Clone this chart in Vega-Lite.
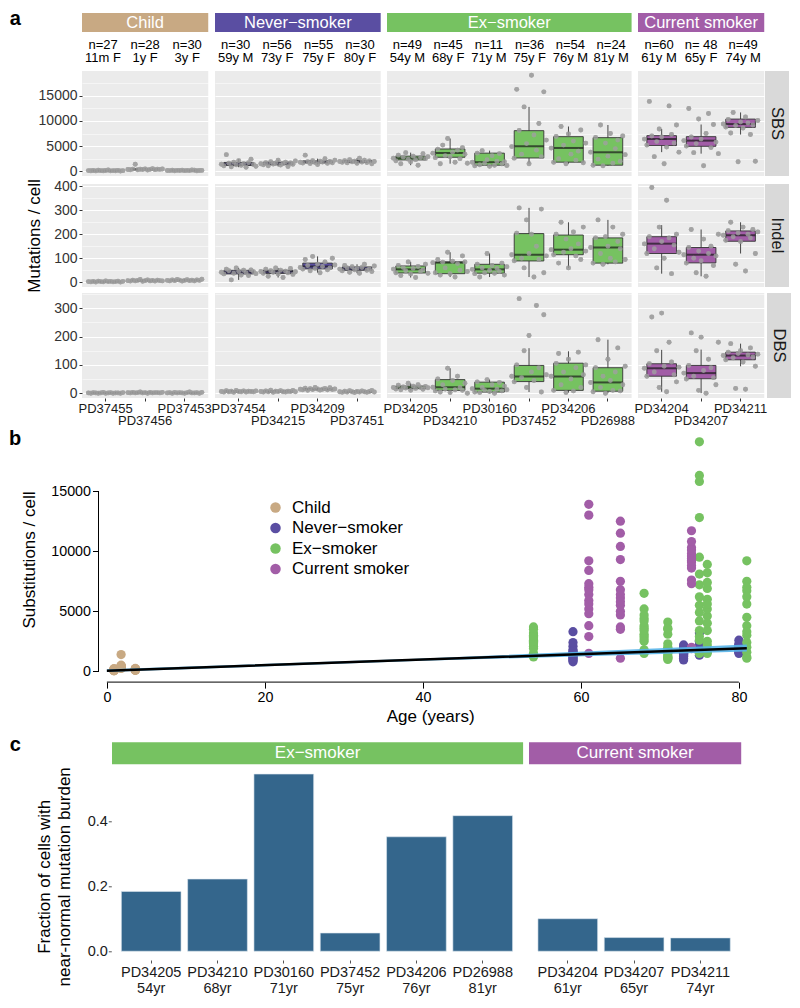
{
"$schema": "https://vega.github.io/schema/vega-lite/v6.json",
"padding": {"left": 8, "top": 8, "right": 5, "bottom": 5},
"background": "white",
"config": {"font": "Liberation Sans", "view": {"stroke": null}, "axis": {"titleFontWeight": "normal", "labelOverlap": false}},
"resolve": {"scale": {"color": "independent"}, "legend": {"color": "independent"}},
"datasets": {
"samples": [
{"s":"PD37455","g":"Child","n":"n=27","d":"11m F","age":0.9},
{"s":"PD37456","g":"Child","n":"n=28","d":"1y F","age":1.8},
{"s":"PD37453","g":"Child","n":"n=30","d":"3y F","age":3.6},
{"s":"PD37454","g":"Never−smoker","n":"n=30","d":"59y M","age":59},
{"s":"PD34215","g":"Never−smoker","n":"n=56","d":"73y F","age":73},
{"s":"PD34209","g":"Never−smoker","n":"n=55","d":"75y F","age":75},
{"s":"PD37451","g":"Never−smoker","n":"n=30","d":"80y F","age":80},
{"s":"PD34205","g":"Ex−smoker","n":"n=49","d":"54y M","age":54},
{"s":"PD34210","g":"Ex−smoker","n":"n=45","d":"68y F","age":68},
{"s":"PD30160","g":"Ex−smoker","n":"n=11","d":"71y M","age":71},
{"s":"PD37452","g":"Ex−smoker","n":"n=36","d":"75y F","age":75},
{"s":"PD34206","g":"Ex−smoker","n":"n=54","d":"76y M","age":76},
{"s":"PD26988","g":"Ex−smoker","n":"n=24","d":"81y M","age":81},
{"s":"PD34204","g":"Current smoker","n":"n=60","d":"61y M","age":61},
{"s":"PD34207","g":"Current smoker","n":"n= 48","d":"65y F","age":65},
{"s":"PD34211","g":"Current smoker","n":"n=49","d":"74y M","age":74}
],
"a": [
{"s":"PD37455","t":"SBS","lo":50,"q1":85,"med":115,"q3":150,"hi":230},
{"s":"PD37456","t":"SBS","lo":250,"q1":310,"med":370,"q3":430,"hi":520},
{"s":"PD37453","t":"SBS","lo":90,"q1":125,"med":150,"q3":180,"hi":250},
{"s":"PD37454","t":"SBS","lo":800,"q1":1150,"med":1400,"q3":1750,"hi":2400},
{"s":"PD34215","t":"SBS","lo":950,"q1":1300,"med":1550,"q3":1800,"hi":2200},
{"s":"PD34209","t":"SBS","lo":1350,"q1":1650,"med":1850,"q3":2050,"hi":2500},
{"s":"PD37451","t":"SBS","lo":1500,"q1":1800,"med":1950,"q3":2100,"hi":2600},
{"s":"PD34205","t":"SBS","lo":1200,"q1":2250,"med":2600,"q3":3000,"hi":3700},
{"s":"PD34210","t":"SBS","lo":1500,"q1":2780,"med":3630,"q3":4425,"hi":6500},
{"s":"PD30160","t":"SBS","lo":1000,"q1":1200,"med":1800,"q3":3600,"hi":4100},
{"s":"PD37452","t":"SBS","lo":1500,"q1":2640,"med":4960,"q3":8075,"hi":12800},
{"s":"PD34206","t":"SBS","lo":1500,"q1":1800,"med":4630,"q3":6880,"hi":8900},
{"s":"PD26988","t":"SBS","lo":1100,"q1":1200,"med":3770,"q3":6680,"hi":9200},
{"s":"PD34204","t":"SBS","lo":3800,"q1":5100,"med":6410,"q3":7080,"hi":8400},
{"s":"PD34207","t":"SBS","lo":3500,"q1":4960,"med":6090,"q3":6880,"hi":9300},
{"s":"PD34211","t":"SBS","lo":7300,"q1":8730,"med":9390,"q3":10380,"hi":11700},
{"s":"PD37455","t":"Indel","lo":1,"q1":2,"med":3,"q3":4,"hi":6},
{"s":"PD37456","t":"Indel","lo":4,"q1":6,"med":7,"q3":8.5,"hi":12},
{"s":"PD37453","t":"Indel","lo":5,"q1":7,"med":8,"q3":10,"hi":13},
{"s":"PD37454","t":"Indel","lo":10,"q1":35,"med":42,"q3":50,"hi":60},
{"s":"PD34215","t":"Indel","lo":20,"q1":37,"med":44,"q3":50,"hi":60},
{"s":"PD34209","t":"Indel","lo":40,"q1":56,"med":66,"q3":80,"hi":108},
{"s":"PD37451","t":"Indel","lo":38,"q1":50,"med":56,"q3":64,"hi":75},
{"s":"PD34205","t":"Indel","lo":20,"q1":39,"med":54,"q3":68,"hi":85},
{"s":"PD34210","t":"Indel","lo":22,"q1":36,"med":82,"q3":85,"hi":125},
{"s":"PD30160","t":"Indel","lo":22,"q1":38,"med":54,"q3":75,"hi":120},
{"s":"PD37452","t":"Indel","lo":22,"q1":89,"med":115,"q3":203,"hi":310},
{"s":"PD34206","t":"Indel","lo":60,"q1":115,"med":136,"q3":197,"hi":250},
{"s":"PD26988","t":"Indel","lo":75,"q1":80,"med":145,"q3":185,"hi":260},
{"s":"PD34204","t":"Indel","lo":36,"q1":120,"med":161,"q3":190,"hi":238},
{"s":"PD34207","t":"Indel","lo":25,"q1":81,"med":115,"q3":145,"hi":220},
{"s":"PD34211","t":"Indel","lo":120,"q1":171,"med":196,"q3":214,"hi":250},
{"s":"PD37455","t":"DBS","lo":0,"q1":0,"med":1,"q3":1.5,"hi":3},
{"s":"PD37456","t":"DBS","lo":0,"q1":1,"med":2,"q3":3,"hi":4},
{"s":"PD37453","t":"DBS","lo":0,"q1":1,"med":1,"q3":2,"hi":4},
{"s":"PD37454","t":"DBS","lo":3,"q1":5,"med":6,"q3":8,"hi":10},
{"s":"PD34215","t":"DBS","lo":3,"q1":5,"med":6,"q3":8,"hi":11},
{"s":"PD34209","t":"DBS","lo":10,"q1":12.5,"med":14,"q3":16.5,"hi":20},
{"s":"PD37451","t":"DBS","lo":2,"q1":4,"med":5,"q3":7,"hi":10},
{"s":"PD34205","t":"DBS","lo":10,"q1":16,"med":20,"q3":25,"hi":35},
{"s":"PD34210","t":"DBS","lo":0,"q1":10,"med":21,"q3":48,"hi":88},
{"s":"PD30160","t":"DBS","lo":0,"q1":4,"med":16,"q3":39,"hi":48},
{"s":"PD37452","t":"DBS","lo":4,"q1":41,"med":59,"q3":98,"hi":159},
{"s":"PD34206","t":"DBS","lo":2,"q1":10,"med":59,"q3":106,"hi":148},
{"s":"PD26988","t":"DBS","lo":0,"q1":7,"med":38,"q3":90,"hi":189},
{"s":"PD34204","t":"DBS","lo":5,"q1":60,"med":88,"q3":104,"hi":153},
{"s":"PD34207","t":"DBS","lo":0,"q1":51,"med":71,"q3":98,"hi":154},
{"s":"PD34211","t":"DBS","lo":95,"q1":118,"med":133,"q3":145,"hi":175},
{"s":"PD37455","t":"SBS","v":120},{"s":"PD37455","t":"SBS","v":85},{"s":"PD37455","t":"SBS","v":150},{"s":"PD37455","t":"SBS","v":60},{"s":"PD37455","t":"SBS","v":190},{"s":"PD37455","t":"SBS","v":110},{"s":"PD37455","t":"SBS","v":95},{"s":"PD37455","t":"SBS","v":140},{"s":"PD37455","t":"SBS","v":230},{"s":"PD37455","t":"SBS","v":75},{"s":"PD37455","t":"SBS","v":130},{"s":"PD37455","t":"SBS","v":105},{"s":"PD37455","t":"SBS","v":170},{"s":"PD37455","t":"SBS","v":50},{"s":"PD37455","t":"SBS","v":115},
{"s":"PD37456","t":"SBS","v":350},{"s":"PD37456","t":"SBS","v":300},{"s":"PD37456","t":"SBS","v":420},{"s":"PD37456","t":"SBS","v":1400},{"s":"PD37456","t":"SBS","v":280},{"s":"PD37456","t":"SBS","v":390},{"s":"PD37456","t":"SBS","v":330},{"s":"PD37456","t":"SBS","v":460},{"s":"PD37456","t":"SBS","v":250},{"s":"PD37456","t":"SBS","v":370},{"s":"PD37456","t":"SBS","v":520},{"s":"PD37456","t":"SBS","v":310},{"s":"PD37456","t":"SBS","v":410},{"s":"PD37456","t":"SBS","v":360},{"s":"PD37456","t":"SBS","v":440},
{"s":"PD37453","t":"SBS","v":150},{"s":"PD37453","t":"SBS","v":120},{"s":"PD37453","t":"SBS","v":190},{"s":"PD37453","t":"SBS","v":90},{"s":"PD37453","t":"SBS","v":170},{"s":"PD37453","t":"SBS","v":140},{"s":"PD37453","t":"SBS","v":210},{"s":"PD37453","t":"SBS","v":110},{"s":"PD37453","t":"SBS","v":160},{"s":"PD37453","t":"SBS","v":130},{"s":"PD37453","t":"SBS","v":250},{"s":"PD37453","t":"SBS","v":180},{"s":"PD37453","t":"SBS","v":100},{"s":"PD37453","t":"SBS","v":145},{"s":"PD37453","t":"SBS","v":165},
{"s":"PD37454","t":"SBS","v":1400},{"s":"PD37454","t":"SBS","v":1100},{"s":"PD37454","t":"SBS","v":3300},{"s":"PD37454","t":"SBS","v":1600},{"s":"PD37454","t":"SBS","v":900},{"s":"PD37454","t":"SBS","v":1800},{"s":"PD37454","t":"SBS","v":1300},{"s":"PD37454","t":"SBS","v":2100},{"s":"PD37454","t":"SBS","v":1200},{"s":"PD37454","t":"SBS","v":1500},{"s":"PD37454","t":"SBS","v":800},{"s":"PD37454","t":"SBS","v":1700},{"s":"PD37454","t":"SBS","v":2400},{"s":"PD37454","t":"SBS","v":1350},{"s":"PD37454","t":"SBS","v":1000},
{"s":"PD34215","t":"SBS","v":1500},{"s":"PD34215","t":"SBS","v":1300},{"s":"PD34215","t":"SBS","v":1700},{"s":"PD34215","t":"SBS","v":1100},{"s":"PD34215","t":"SBS","v":1900},{"s":"PD34215","t":"SBS","v":1450},{"s":"PD34215","t":"SBS","v":1600},{"s":"PD34215","t":"SBS","v":2200},{"s":"PD34215","t":"SBS","v":1250},{"s":"PD34215","t":"SBS","v":1550},{"s":"PD34215","t":"SBS","v":1800},{"s":"PD34215","t":"SBS","v":950},{"s":"PD34215","t":"SBS","v":1650},{"s":"PD34215","t":"SBS","v":1400},{"s":"PD34215","t":"SBS","v":2050},
{"s":"PD34209","t":"SBS","v":1800},{"s":"PD34209","t":"SBS","v":1650},{"s":"PD34209","t":"SBS","v":3200},{"s":"PD34209","t":"SBS","v":1900},{"s":"PD34209","t":"SBS","v":1550},{"s":"PD34209","t":"SBS","v":2100},{"s":"PD34209","t":"SBS","v":1750},{"s":"PD34209","t":"SBS","v":1350},{"s":"PD34209","t":"SBS","v":2000},{"s":"PD34209","t":"SBS","v":1850},{"s":"PD34209","t":"SBS","v":2500},{"s":"PD34209","t":"SBS","v":1600},{"s":"PD34209","t":"SBS","v":1950},{"s":"PD34209","t":"SBS","v":1700},{"s":"PD34209","t":"SBS","v":2200},
{"s":"PD37451","t":"SBS","v":1950},{"s":"PD37451","t":"SBS","v":1800},{"s":"PD37451","t":"SBS","v":2100},{"s":"PD37451","t":"SBS","v":1700},{"s":"PD37451","t":"SBS","v":2300},{"s":"PD37451","t":"SBS","v":1900},{"s":"PD37451","t":"SBS","v":2000},{"s":"PD37451","t":"SBS","v":1600},{"s":"PD37451","t":"SBS","v":2600},{"s":"PD37451","t":"SBS","v":1850},{"s":"PD37451","t":"SBS","v":2200},{"s":"PD37451","t":"SBS","v":1750},{"s":"PD37451","t":"SBS","v":2050},{"s":"PD37451","t":"SBS","v":1500},{"s":"PD37451","t":"SBS","v":1950},
{"s":"PD34205","t":"SBS","v":2600},{"s":"PD34205","t":"SBS","v":2100},{"s":"PD34205","t":"SBS","v":3200},{"s":"PD34205","t":"SBS","v":1500},{"s":"PD34205","t":"SBS","v":2800},{"s":"PD34205","t":"SBS","v":3700},{"s":"PD34205","t":"SBS","v":2400},{"s":"PD34205","t":"SBS","v":1900},{"s":"PD34205","t":"SBS","v":3000},{"s":"PD34205","t":"SBS","v":2300},{"s":"PD34205","t":"SBS","v":1200},{"s":"PD34205","t":"SBS","v":2700},{"s":"PD34205","t":"SBS","v":3500},{"s":"PD34205","t":"SBS","v":2500},{"s":"PD34205","t":"SBS","v":2900},
{"s":"PD34210","t":"SBS","v":3600},{"s":"PD34210","t":"SBS","v":2700},{"s":"PD34210","t":"SBS","v":4400},{"s":"PD34210","t":"SBS","v":1500},{"s":"PD34210","t":"SBS","v":5200},{"s":"PD34210","t":"SBS","v":3100},{"s":"PD34210","t":"SBS","v":6500},{"s":"PD34210","t":"SBS","v":2900},{"s":"PD34210","t":"SBS","v":3800},{"s":"PD34210","t":"SBS","v":1800},{"s":"PD34210","t":"SBS","v":4200},{"s":"PD34210","t":"SBS","v":2500},{"s":"PD34210","t":"SBS","v":4700},{"s":"PD34210","t":"SBS","v":3400},{"s":"PD34210","t":"SBS","v":1600},
{"s":"PD30160","t":"SBS","v":1800},{"s":"PD30160","t":"SBS","v":1100},{"s":"PD30160","t":"SBS","v":3600},{"s":"PD30160","t":"SBS","v":1300},{"s":"PD30160","t":"SBS","v":4100},{"s":"PD30160","t":"SBS","v":1600},{"s":"PD30160","t":"SBS","v":2300},{"s":"PD30160","t":"SBS","v":1000},{"s":"PD30160","t":"SBS","v":3100},{"s":"PD30160","t":"SBS","v":1200},{"s":"PD30160","t":"SBS","v":2000},{"s":"PD30160","t":"SBS","v":3500},{"s":"PD30160","t":"SBS","v":1500},{"s":"PD30160","t":"SBS","v":1900},{"s":"PD30160","t":"SBS","v":1150},
{"s":"PD37452","t":"SBS","v":4900},{"s":"PD37452","t":"SBS","v":2600},{"s":"PD37452","t":"SBS","v":16300},{"s":"PD37452","t":"SBS","v":8100},{"s":"PD37452","t":"SBS","v":3400},{"s":"PD37452","t":"SBS","v":12800},{"s":"PD37452","t":"SBS","v":5500},{"s":"PD37452","t":"SBS","v":1500},{"s":"PD37452","t":"SBS","v":19100},{"s":"PD37452","t":"SBS","v":7200},{"s":"PD37452","t":"SBS","v":4200},{"s":"PD37452","t":"SBS","v":9500},{"s":"PD37452","t":"SBS","v":2900},{"s":"PD37452","t":"SBS","v":15800},{"s":"PD37452","t":"SBS","v":6200},
{"s":"PD34206","t":"SBS","v":4600},{"s":"PD34206","t":"SBS","v":1800},{"s":"PD34206","t":"SBS","v":6900},{"s":"PD34206","t":"SBS","v":2500},{"s":"PD34206","t":"SBS","v":8900},{"s":"PD34206","t":"SBS","v":5200},{"s":"PD34206","t":"SBS","v":1500},{"s":"PD34206","t":"SBS","v":7400},{"s":"PD34206","t":"SBS","v":3400},{"s":"PD34206","t":"SBS","v":6000},{"s":"PD34206","t":"SBS","v":2200},{"s":"PD34206","t":"SBS","v":4000},{"s":"PD34206","t":"SBS","v":8200},{"s":"PD34206","t":"SBS","v":1700},{"s":"PD34206","t":"SBS","v":5600},
{"s":"PD26988","t":"SBS","v":3800},{"s":"PD26988","t":"SBS","v":1200},{"s":"PD26988","t":"SBS","v":6700},{"s":"PD26988","t":"SBS","v":2400},{"s":"PD26988","t":"SBS","v":9200},{"s":"PD26988","t":"SBS","v":1100},{"s":"PD26988","t":"SBS","v":5600},{"s":"PD26988","t":"SBS","v":3000},{"s":"PD26988","t":"SBS","v":7500},{"s":"PD26988","t":"SBS","v":1600},{"s":"PD26988","t":"SBS","v":4500},{"s":"PD26988","t":"SBS","v":6200},{"s":"PD26988","t":"SBS","v":2000},{"s":"PD26988","t":"SBS","v":7000},{"s":"PD26988","t":"SBS","v":3300},
{"s":"PD34204","t":"SBS","v":6400},{"s":"PD34204","t":"SBS","v":5200},{"s":"PD34204","t":"SBS","v":13900},{"s":"PD34204","t":"SBS","v":7000},{"s":"PD34204","t":"SBS","v":2900},{"s":"PD34204","t":"SBS","v":5900},{"s":"PD34204","t":"SBS","v":8400},{"s":"PD34204","t":"SBS","v":6800},{"s":"PD34204","t":"SBS","v":1500},{"s":"PD34204","t":"SBS","v":4800},{"s":"PD34204","t":"SBS","v":13000},{"s":"PD34204","t":"SBS","v":7300},{"s":"PD34204","t":"SBS","v":5600},{"s":"PD34204","t":"SBS","v":9200},{"s":"PD34204","t":"SBS","v":3800},
{"s":"PD34207","t":"SBS","v":6100},{"s":"PD34207","t":"SBS","v":5000},{"s":"PD34207","t":"SBS","v":12500},{"s":"PD34207","t":"SBS","v":6800},{"s":"PD34207","t":"SBS","v":3700},{"s":"PD34207","t":"SBS","v":5500},{"s":"PD34207","t":"SBS","v":10400},{"s":"PD34207","t":"SBS","v":6400},{"s":"PD34207","t":"SBS","v":1100},{"s":"PD34207","t":"SBS","v":7500},{"s":"PD34207","t":"SBS","v":11500},{"s":"PD34207","t":"SBS","v":4700},{"s":"PD34207","t":"SBS","v":9300},{"s":"PD34207","t":"SBS","v":5800},{"s":"PD34207","t":"SBS","v":3500},
{"s":"PD34211","t":"SBS","v":9400},{"s":"PD34211","t":"SBS","v":8800},{"s":"PD34211","t":"SBS","v":10300},{"s":"PD34211","t":"SBS","v":7600},{"s":"PD34211","t":"SBS","v":11700},{"s":"PD34211","t":"SBS","v":9100},{"s":"PD34211","t":"SBS","v":1900},{"s":"PD34211","t":"SBS","v":9800},{"s":"PD34211","t":"SBS","v":8600},{"s":"PD34211","t":"SBS","v":10800},{"s":"PD34211","t":"SBS","v":9600},{"s":"PD34211","t":"SBS","v":7300},{"s":"PD34211","t":"SBS","v":9200},{"s":"PD34211","t":"SBS","v":2000},{"s":"PD34211","t":"SBS","v":10100},
{"s":"PD37455","t":"Indel","v":3},{"s":"PD37455","t":"Indel","v":2},{"s":"PD37455","t":"Indel","v":4},{"s":"PD37455","t":"Indel","v":1},{"s":"PD37455","t":"Indel","v":5},{"s":"PD37455","t":"Indel","v":3},{"s":"PD37455","t":"Indel","v":2},{"s":"PD37455","t":"Indel","v":6},{"s":"PD37455","t":"Indel","v":3},{"s":"PD37455","t":"Indel","v":4},{"s":"PD37455","t":"Indel","v":2},{"s":"PD37455","t":"Indel","v":3},{"s":"PD37455","t":"Indel","v":5},{"s":"PD37455","t":"Indel","v":1},{"s":"PD37455","t":"Indel","v":4},
{"s":"PD37456","t":"Indel","v":7},{"s":"PD37456","t":"Indel","v":5},{"s":"PD37456","t":"Indel","v":9},{"s":"PD37456","t":"Indel","v":6},{"s":"PD37456","t":"Indel","v":8},{"s":"PD37456","t":"Indel","v":12},{"s":"PD37456","t":"Indel","v":4},{"s":"PD37456","t":"Indel","v":7},{"s":"PD37456","t":"Indel","v":10},{"s":"PD37456","t":"Indel","v":6},{"s":"PD37456","t":"Indel","v":8},{"s":"PD37456","t":"Indel","v":5},{"s":"PD37456","t":"Indel","v":9},{"s":"PD37456","t":"Indel","v":7},{"s":"PD37456","t":"Indel","v":6},
{"s":"PD37453","t":"Indel","v":8},{"s":"PD37453","t":"Indel","v":6},{"s":"PD37453","t":"Indel","v":10},{"s":"PD37453","t":"Indel","v":7},{"s":"PD37453","t":"Indel","v":12},{"s":"PD37453","t":"Indel","v":9},{"s":"PD37453","t":"Indel","v":5},{"s":"PD37453","t":"Indel","v":8},{"s":"PD37453","t":"Indel","v":11},{"s":"PD37453","t":"Indel","v":7},{"s":"PD37453","t":"Indel","v":9},{"s":"PD37453","t":"Indel","v":6},{"s":"PD37453","t":"Indel","v":10},{"s":"PD37453","t":"Indel","v":8},{"s":"PD37453","t":"Indel","v":13},
{"s":"PD37454","t":"Indel","v":42},{"s":"PD37454","t":"Indel","v":35},{"s":"PD37454","t":"Indel","v":55},{"s":"PD37454","t":"Indel","v":48},{"s":"PD37454","t":"Indel","v":10},{"s":"PD37454","t":"Indel","v":38},{"s":"PD37454","t":"Indel","v":60},{"s":"PD37454","t":"Indel","v":45},{"s":"PD37454","t":"Indel","v":30},{"s":"PD37454","t":"Indel","v":50},{"s":"PD37454","t":"Indel","v":40},{"s":"PD37454","t":"Indel","v":28},{"s":"PD37454","t":"Indel","v":52},{"s":"PD37454","t":"Indel","v":44},{"s":"PD37454","t":"Indel","v":36},
{"s":"PD34215","t":"Indel","v":45},{"s":"PD34215","t":"Indel","v":38},{"s":"PD34215","t":"Indel","v":55},{"s":"PD34215","t":"Indel","v":25},{"s":"PD34215","t":"Indel","v":48},{"s":"PD34215","t":"Indel","v":42},{"s":"PD34215","t":"Indel","v":60},{"s":"PD34215","t":"Indel","v":35},{"s":"PD34215","t":"Indel","v":50},{"s":"PD34215","t":"Indel","v":20},{"s":"PD34215","t":"Indel","v":46},{"s":"PD34215","t":"Indel","v":40},{"s":"PD34215","t":"Indel","v":58},{"s":"PD34215","t":"Indel","v":33},{"s":"PD34215","t":"Indel","v":44},
{"s":"PD34209","t":"Indel","v":62},{"s":"PD34209","t":"Indel","v":55},{"s":"PD34209","t":"Indel","v":95},{"s":"PD34209","t":"Indel","v":70},{"s":"PD34209","t":"Indel","v":48},{"s":"PD34209","t":"Indel","v":108},{"s":"PD34209","t":"Indel","v":58},{"s":"PD34209","t":"Indel","v":75},{"s":"PD34209","t":"Indel","v":40},{"s":"PD34209","t":"Indel","v":66},{"s":"PD34209","t":"Indel","v":85},{"s":"PD34209","t":"Indel","v":52},{"s":"PD34209","t":"Indel","v":60},{"s":"PD34209","t":"Indel","v":100},{"s":"PD34209","t":"Indel","v":72},
{"s":"PD37451","t":"Indel","v":55},{"s":"PD37451","t":"Indel","v":48},{"s":"PD37451","t":"Indel","v":70},{"s":"PD37451","t":"Indel","v":60},{"s":"PD37451","t":"Indel","v":42},{"s":"PD37451","t":"Indel","v":65},{"s":"PD37451","t":"Indel","v":52},{"s":"PD37451","t":"Indel","v":58},{"s":"PD37451","t":"Indel","v":38},{"s":"PD37451","t":"Indel","v":62},{"s":"PD37451","t":"Indel","v":75},{"s":"PD37451","t":"Indel","v":50},{"s":"PD37451","t":"Indel","v":56},{"s":"PD37451","t":"Indel","v":45},{"s":"PD37451","t":"Indel","v":68},
{"s":"PD34205","t":"Indel","v":55},{"s":"PD34205","t":"Indel","v":40},{"s":"PD34205","t":"Indel","v":70},{"s":"PD34205","t":"Indel","v":28},{"s":"PD34205","t":"Indel","v":62},{"s":"PD34205","t":"Indel","v":48},{"s":"PD34205","t":"Indel","v":85},{"s":"PD34205","t":"Indel","v":35},{"s":"PD34205","t":"Indel","v":58},{"s":"PD34205","t":"Indel","v":20},{"s":"PD34205","t":"Indel","v":66},{"s":"PD34205","t":"Indel","v":45},{"s":"PD34205","t":"Indel","v":52},{"s":"PD34205","t":"Indel","v":75},{"s":"PD34205","t":"Indel","v":38},
{"s":"PD34210","t":"Indel","v":82},{"s":"PD34210","t":"Indel","v":40},{"s":"PD34210","t":"Indel","v":95},{"s":"PD34210","t":"Indel","v":30},{"s":"PD34210","t":"Indel","v":84},{"s":"PD34210","t":"Indel","v":60},{"s":"PD34210","t":"Indel","v":125},{"s":"PD34210","t":"Indel","v":36},{"s":"PD34210","t":"Indel","v":88},{"s":"PD34210","t":"Indel","v":22},{"s":"PD34210","t":"Indel","v":78},{"s":"PD34210","t":"Indel","v":50},{"s":"PD34210","t":"Indel","v":110},{"s":"PD34210","t":"Indel","v":85},{"s":"PD34210","t":"Indel","v":45},
{"s":"PD30160","t":"Indel","v":54},{"s":"PD30160","t":"Indel","v":36},{"s":"PD30160","t":"Indel","v":75},{"s":"PD30160","t":"Indel","v":22},{"s":"PD30160","t":"Indel","v":60},{"s":"PD30160","t":"Indel","v":40},{"s":"PD30160","t":"Indel","v":120},{"s":"PD30160","t":"Indel","v":50},{"s":"PD30160","t":"Indel","v":70},{"s":"PD30160","t":"Indel","v":38},{"s":"PD30160","t":"Indel","v":58},{"s":"PD30160","t":"Indel","v":45},{"s":"PD30160","t":"Indel","v":80},{"s":"PD30160","t":"Indel","v":30},{"s":"PD30160","t":"Indel","v":65},
{"s":"PD37452","t":"Indel","v":115},{"s":"PD37452","t":"Indel","v":90},{"s":"PD37452","t":"Indel","v":205},{"s":"PD37452","t":"Indel","v":310},{"s":"PD37452","t":"Indel","v":100},{"s":"PD37452","t":"Indel","v":60},{"s":"PD37452","t":"Indel","v":260},{"s":"PD37452","t":"Indel","v":120},{"s":"PD37452","t":"Indel","v":200},{"s":"PD37452","t":"Indel","v":22},{"s":"PD37452","t":"Indel","v":150},{"s":"PD37452","t":"Indel","v":95},{"s":"PD37452","t":"Indel","v":305},{"s":"PD37452","t":"Indel","v":40},{"s":"PD37452","t":"Indel","v":110},
{"s":"PD34206","t":"Indel","v":136},{"s":"PD34206","t":"Indel","v":115},{"s":"PD34206","t":"Indel","v":200},{"s":"PD34206","t":"Indel","v":80},{"s":"PD34206","t":"Indel","v":250},{"s":"PD34206","t":"Indel","v":125},{"s":"PD34206","t":"Indel","v":180},{"s":"PD34206","t":"Indel","v":60},{"s":"PD34206","t":"Indel","v":140},{"s":"PD34206","t":"Indel","v":210},{"s":"PD34206","t":"Indel","v":110},{"s":"PD34206","t":"Indel","v":160},{"s":"PD34206","t":"Indel","v":95},{"s":"PD34206","t":"Indel","v":230},{"s":"PD34206","t":"Indel","v":130},
{"s":"PD26988","t":"Indel","v":145},{"s":"PD26988","t":"Indel","v":80},{"s":"PD26988","t":"Indel","v":185},{"s":"PD26988","t":"Indel","v":260},{"s":"PD26988","t":"Indel","v":120},{"s":"PD26988","t":"Indel","v":75},{"s":"PD26988","t":"Indel","v":190},{"s":"PD26988","t":"Indel","v":150},{"s":"PD26988","t":"Indel","v":100},{"s":"PD26988","t":"Indel","v":230},{"s":"PD26988","t":"Indel","v":85},{"s":"PD26988","t":"Indel","v":170},{"s":"PD26988","t":"Indel","v":140},{"s":"PD26988","t":"Indel","v":200},{"s":"PD26988","t":"Indel","v":95},
{"s":"PD34204","t":"Indel","v":160},{"s":"PD34204","t":"Indel","v":120},{"s":"PD34204","t":"Indel","v":190},{"s":"PD34204","t":"Indel","v":395},{"s":"PD34204","t":"Indel","v":140},{"s":"PD34204","t":"Indel","v":60},{"s":"PD34204","t":"Indel","v":230},{"s":"PD34204","t":"Indel","v":170},{"s":"PD34204","t":"Indel","v":100},{"s":"PD34204","t":"Indel","v":342},{"s":"PD34204","t":"Indel","v":185},{"s":"PD34204","t":"Indel","v":36},{"s":"PD34204","t":"Indel","v":155},{"s":"PD34204","t":"Indel","v":200},{"s":"PD34204","t":"Indel","v":125},
{"s":"PD34207","t":"Indel","v":115},{"s":"PD34207","t":"Indel","v":80},{"s":"PD34207","t":"Indel","v":145},{"s":"PD34207","t":"Indel","v":220},{"s":"PD34207","t":"Indel","v":100},{"s":"PD34207","t":"Indel","v":40},{"s":"PD34207","t":"Indel","v":130},{"s":"PD34207","t":"Indel","v":90},{"s":"PD34207","t":"Indel","v":180},{"s":"PD34207","t":"Indel","v":25},{"s":"PD34207","t":"Indel","v":120},{"s":"PD34207","t":"Indel","v":150},{"s":"PD34207","t":"Indel","v":70},{"s":"PD34207","t":"Indel","v":110},{"s":"PD34207","t":"Indel","v":200},
{"s":"PD34211","t":"Indel","v":196},{"s":"PD34211","t":"Indel","v":175},{"s":"PD34211","t":"Indel","v":215},{"s":"PD34211","t":"Indel","v":250},{"s":"PD34211","t":"Indel","v":190},{"s":"PD34211","t":"Indel","v":75},{"s":"PD34211","t":"Indel","v":205},{"s":"PD34211","t":"Indel","v":170},{"s":"PD34211","t":"Indel","v":230},{"s":"PD34211","t":"Indel","v":47},{"s":"PD34211","t":"Indel","v":200},{"s":"PD34211","t":"Indel","v":185},{"s":"PD34211","t":"Indel","v":220},{"s":"PD34211","t":"Indel","v":120},{"s":"PD34211","t":"Indel","v":210},
{"s":"PD37455","t":"DBS","v":1},{"s":"PD37455","t":"DBS","v":0},{"s":"PD37455","t":"DBS","v":2},{"s":"PD37455","t":"DBS","v":1},{"s":"PD37455","t":"DBS","v":0},{"s":"PD37455","t":"DBS","v":1},{"s":"PD37455","t":"DBS","v":3},{"s":"PD37455","t":"DBS","v":0},{"s":"PD37455","t":"DBS","v":1},{"s":"PD37455","t":"DBS","v":2},{"s":"PD37455","t":"DBS","v":0},{"s":"PD37455","t":"DBS","v":1},{"s":"PD37455","t":"DBS","v":1},{"s":"PD37455","t":"DBS","v":0},{"s":"PD37455","t":"DBS","v":2},
{"s":"PD37456","t":"DBS","v":2},{"s":"PD37456","t":"DBS","v":1},{"s":"PD37456","t":"DBS","v":3},{"s":"PD37456","t":"DBS","v":1},{"s":"PD37456","t":"DBS","v":2},{"s":"PD37456","t":"DBS","v":4},{"s":"PD37456","t":"DBS","v":1},{"s":"PD37456","t":"DBS","v":2},{"s":"PD37456","t":"DBS","v":0},{"s":"PD37456","t":"DBS","v":3},{"s":"PD37456","t":"DBS","v":1},{"s":"PD37456","t":"DBS","v":2},{"s":"PD37456","t":"DBS","v":2},{"s":"PD37456","t":"DBS","v":1},{"s":"PD37456","t":"DBS","v":3},
{"s":"PD37453","t":"DBS","v":1},{"s":"PD37453","t":"DBS","v":2},{"s":"PD37453","t":"DBS","v":0},{"s":"PD37453","t":"DBS","v":3},{"s":"PD37453","t":"DBS","v":1},{"s":"PD37453","t":"DBS","v":2},{"s":"PD37453","t":"DBS","v":1},{"s":"PD37453","t":"DBS","v":0},{"s":"PD37453","t":"DBS","v":2},{"s":"PD37453","t":"DBS","v":4},{"s":"PD37453","t":"DBS","v":1},{"s":"PD37453","t":"DBS","v":1},{"s":"PD37453","t":"DBS","v":2},{"s":"PD37453","t":"DBS","v":0},{"s":"PD37453","t":"DBS","v":3},
{"s":"PD37454","t":"DBS","v":6},{"s":"PD37454","t":"DBS","v":4},{"s":"PD37454","t":"DBS","v":9},{"s":"PD37454","t":"DBS","v":5},{"s":"PD37454","t":"DBS","v":7},{"s":"PD37454","t":"DBS","v":3},{"s":"PD37454","t":"DBS","v":10},{"s":"PD37454","t":"DBS","v":6},{"s":"PD37454","t":"DBS","v":5},{"s":"PD37454","t":"DBS","v":8},{"s":"PD37454","t":"DBS","v":4},{"s":"PD37454","t":"DBS","v":7},{"s":"PD37454","t":"DBS","v":6},{"s":"PD37454","t":"DBS","v":5},{"s":"PD37454","t":"DBS","v":8},
{"s":"PD34215","t":"DBS","v":6},{"s":"PD34215","t":"DBS","v":4},{"s":"PD34215","t":"DBS","v":8},{"s":"PD34215","t":"DBS","v":5},{"s":"PD34215","t":"DBS","v":11},{"s":"PD34215","t":"DBS","v":3},{"s":"PD34215","t":"DBS","v":7},{"s":"PD34215","t":"DBS","v":6},{"s":"PD34215","t":"DBS","v":9},{"s":"PD34215","t":"DBS","v":5},{"s":"PD34215","t":"DBS","v":4},{"s":"PD34215","t":"DBS","v":7},{"s":"PD34215","t":"DBS","v":6},{"s":"PD34215","t":"DBS","v":10},{"s":"PD34215","t":"DBS","v":5},
{"s":"PD34209","t":"DBS","v":14},{"s":"PD34209","t":"DBS","v":12},{"s":"PD34209","t":"DBS","v":18},{"s":"PD34209","t":"DBS","v":10},{"s":"PD34209","t":"DBS","v":16},{"s":"PD34209","t":"DBS","v":13},{"s":"PD34209","t":"DBS","v":20},{"s":"PD34209","t":"DBS","v":15},{"s":"PD34209","t":"DBS","v":11},{"s":"PD34209","t":"DBS","v":14},{"s":"PD34209","t":"DBS","v":17},{"s":"PD34209","t":"DBS","v":12},{"s":"PD34209","t":"DBS","v":19},{"s":"PD34209","t":"DBS","v":13},{"s":"PD34209","t":"DBS","v":15},
{"s":"PD37451","t":"DBS","v":5},{"s":"PD37451","t":"DBS","v":3},{"s":"PD37451","t":"DBS","v":7},{"s":"PD37451","t":"DBS","v":4},{"s":"PD37451","t":"DBS","v":9},{"s":"PD37451","t":"DBS","v":5},{"s":"PD37451","t":"DBS","v":2},{"s":"PD37451","t":"DBS","v":6},{"s":"PD37451","t":"DBS","v":4},{"s":"PD37451","t":"DBS","v":8},{"s":"PD37451","t":"DBS","v":5},{"s":"PD37451","t":"DBS","v":3},{"s":"PD37451","t":"DBS","v":6},{"s":"PD37451","t":"DBS","v":10},{"s":"PD37451","t":"DBS","v":4},
{"s":"PD34205","t":"DBS","v":20},{"s":"PD34205","t":"DBS","v":15},{"s":"PD34205","t":"DBS","v":28},{"s":"PD34205","t":"DBS","v":12},{"s":"PD34205","t":"DBS","v":22},{"s":"PD34205","t":"DBS","v":18},{"s":"PD34205","t":"DBS","v":35},{"s":"PD34205","t":"DBS","v":10},{"s":"PD34205","t":"DBS","v":25},{"s":"PD34205","t":"DBS","v":17},{"s":"PD34205","t":"DBS","v":30},{"s":"PD34205","t":"DBS","v":21},{"s":"PD34205","t":"DBS","v":14},{"s":"PD34205","t":"DBS","v":24},{"s":"PD34205","t":"DBS","v":19},
{"s":"PD34210","t":"DBS","v":21},{"s":"PD34210","t":"DBS","v":8},{"s":"PD34210","t":"DBS","v":50},{"s":"PD34210","t":"DBS","v":4},{"s":"PD34210","t":"DBS","v":30},{"s":"PD34210","t":"DBS","v":15},{"s":"PD34210","t":"DBS","v":88},{"s":"PD34210","t":"DBS","v":2},{"s":"PD34210","t":"DBS","v":45},{"s":"PD34210","t":"DBS","v":12},{"s":"PD34210","t":"DBS","v":60},{"s":"PD34210","t":"DBS","v":20},{"s":"PD34210","t":"DBS","v":10},{"s":"PD34210","t":"DBS","v":35},{"s":"PD34210","t":"DBS","v":0},
{"s":"PD30160","t":"DBS","v":16},{"s":"PD30160","t":"DBS","v":4},{"s":"PD30160","t":"DBS","v":40},{"s":"PD30160","t":"DBS","v":2},{"s":"PD30160","t":"DBS","v":20},{"s":"PD30160","t":"DBS","v":10},{"s":"PD30160","t":"DBS","v":48},{"s":"PD30160","t":"DBS","v":6},{"s":"PD30160","t":"DBS","v":30},{"s":"PD30160","t":"DBS","v":0},{"s":"PD30160","t":"DBS","v":14},{"s":"PD30160","t":"DBS","v":38},{"s":"PD30160","t":"DBS","v":8},{"s":"PD30160","t":"DBS","v":25},{"s":"PD30160","t":"DBS","v":12},
{"s":"PD37452","t":"DBS","v":60},{"s":"PD37452","t":"DBS","v":40},{"s":"PD37452","t":"DBS","v":100},{"s":"PD37452","t":"DBS","v":334},{"s":"PD37452","t":"DBS","v":55},{"s":"PD37452","t":"DBS","v":150},{"s":"PD37452","t":"DBS","v":20},{"s":"PD37452","t":"DBS","v":204},{"s":"PD37452","t":"DBS","v":75},{"s":"PD37452","t":"DBS","v":45},{"s":"PD37452","t":"DBS","v":310},{"s":"PD37452","t":"DBS","v":90},{"s":"PD37452","t":"DBS","v":4},{"s":"PD37452","t":"DBS","v":277},{"s":"PD37452","t":"DBS","v":65},
{"s":"PD34206","t":"DBS","v":60},{"s":"PD34206","t":"DBS","v":10},{"s":"PD34206","t":"DBS","v":105},{"s":"PD34206","t":"DBS","v":140},{"s":"PD34206","t":"DBS","v":30},{"s":"PD34206","t":"DBS","v":75},{"s":"PD34206","t":"DBS","v":2},{"s":"PD34206","t":"DBS","v":120},{"s":"PD34206","t":"DBS","v":50},{"s":"PD34206","t":"DBS","v":8},{"s":"PD34206","t":"DBS","v":90},{"s":"PD34206","t":"DBS","v":145},{"s":"PD34206","t":"DBS","v":20},{"s":"PD34206","t":"DBS","v":65},{"s":"PD34206","t":"DBS","v":100},
{"s":"PD26988","t":"DBS","v":38},{"s":"PD26988","t":"DBS","v":5},{"s":"PD26988","t":"DBS","v":90},{"s":"PD26988","t":"DBS","v":189},{"s":"PD26988","t":"DBS","v":20},{"s":"PD26988","t":"DBS","v":60},{"s":"PD26988","t":"DBS","v":0},{"s":"PD26988","t":"DBS","v":120},{"s":"PD26988","t":"DBS","v":45},{"s":"PD26988","t":"DBS","v":10},{"s":"PD26988","t":"DBS","v":75},{"s":"PD26988","t":"DBS","v":160},{"s":"PD26988","t":"DBS","v":8},{"s":"PD26988","t":"DBS","v":30},{"s":"PD26988","t":"DBS","v":95},
{"s":"PD34204","t":"DBS","v":88},{"s":"PD34204","t":"DBS","v":60},{"s":"PD34204","t":"DBS","v":104},{"s":"PD34204","t":"DBS","v":269},{"s":"PD34204","t":"DBS","v":75},{"s":"PD34204","t":"DBS","v":150},{"s":"PD34204","t":"DBS","v":20},{"s":"PD34204","t":"DBS","v":283},{"s":"PD34204","t":"DBS","v":95},{"s":"PD34204","t":"DBS","v":5},{"s":"PD34204","t":"DBS","v":180},{"s":"PD34204","t":"DBS","v":110},{"s":"PD34204","t":"DBS","v":65},{"s":"PD34204","t":"DBS","v":40},{"s":"PD34204","t":"DBS","v":92},
{"s":"PD34207","t":"DBS","v":71},{"s":"PD34207","t":"DBS","v":50},{"s":"PD34207","t":"DBS","v":98},{"s":"PD34207","t":"DBS","v":213},{"s":"PD34207","t":"DBS","v":60},{"s":"PD34207","t":"DBS","v":150},{"s":"PD34207","t":"DBS","v":10},{"s":"PD34207","t":"DBS","v":198},{"s":"PD34207","t":"DBS","v":80},{"s":"PD34207","t":"DBS","v":0},{"s":"PD34207","t":"DBS","v":120},{"s":"PD34207","t":"DBS","v":90},{"s":"PD34207","t":"DBS","v":55},{"s":"PD34207","t":"DBS","v":30},{"s":"PD34207","t":"DBS","v":180},
{"s":"PD34211","t":"DBS","v":133},{"s":"PD34211","t":"DBS","v":118},{"s":"PD34211","t":"DBS","v":145},{"s":"PD34211","t":"DBS","v":175},{"s":"PD34211","t":"DBS","v":125},{"s":"PD34211","t":"DBS","v":17},{"s":"PD34211","t":"DBS","v":140},{"s":"PD34211","t":"DBS","v":150},{"s":"PD34211","t":"DBS","v":110},{"s":"PD34211","t":"DBS","v":14},{"s":"PD34211","t":"DBS","v":135},{"s":"PD34211","t":"DBS","v":160},{"s":"PD34211","t":"DBS","v":128},{"s":"PD34211","t":"DBS","v":95},{"s":"PD34211","t":"DBS","v":138}
],
"fit": [
{"age":0,"fit":60,"lo":-60,"hi":180},
{"age":40,"fit":980,"lo":880,"hi":1080},
{"age":81,"fit":1920,"lo":1650,"hi":2230}
],
"frac": [
{"s":"PD34205","g":"Ex−smoker","lab":"PD34205 54yr","f":0.184},
{"s":"PD34210","g":"Ex−smoker","lab":"PD34210 68yr","f":0.222},
{"s":"PD30160","g":"Ex−smoker","lab":"PD30160 71yr","f":0.545},
{"s":"PD37452","g":"Ex−smoker","lab":"PD37452 75yr","f":0.056},
{"s":"PD34206","g":"Ex−smoker","lab":"PD34206 76yr","f":0.352},
{"s":"PD26988","g":"Ex−smoker","lab":"PD26988 81yr","f":0.417},
{"s":"PD34204","g":"Current smoker","lab":"PD34204 61yr","f":0.1},
{"s":"PD34207","g":"Current smoker","lab":"PD34207 65yr","f":0.042},
{"s":"PD34211","g":"Current smoker","lab":"PD34211 74yr","f":0.041}
]
},
"vconcat": [
{
"vconcat": [
{
"vconcat": [
{
"hconcat": [
{"width": 126.24, "height": 19, "view": {"fill": "#C8A983", "stroke": null}, "data": {"values": [{"g": "Child"}]}, "mark": {"type": "text", "color": "white", "fontSize": 16.5}, "encoding": {"text": {"field": "g"}}},
{"width": 165.69, "height": 19, "view": {"fill": "#5A4EA2", "stroke": null}, "data": {"values": [{"g": "Never−smoker"}]}, "mark": {"type": "text", "color": "white", "fontSize": 16.5}, "encoding": {"text": {"field": "g"}}},
{"width": 244.59, "height": 19, "view": {"fill": "#76C261", "stroke": null}, "data": {"values": [{"g": "Ex−smoker"}]}, "mark": {"type": "text", "color": "white", "fontSize": 16.5}, "encoding": {"text": {"field": "g"}}},
{"width": 126.24, "height": 19, "view": {"fill": "#A25DA7", "stroke": null}, "data": {"values": [{"g": "Current smoker"}]}, "mark": {"type": "text", "color": "white", "fontSize": 16.5}, "encoding": {"text": {"field": "g"}}}
],
"spacing": 6,
"title": {"text": "a", "orient": "left", "angle": 0, "anchor": "middle", "align": "right", "baseline": "middle", "offset": 50, "dy": -4, "fontSize": 20, "fontWeight": "bold", "color": "black"}
},
{
"hconcat": [
{"width": 126.24, "height": 22, "data": {"name": "samples"}, "transform": [{"filter": "datum.g == 'Child'"}],
 "encoding": {"x": {"field": "s", "type": "nominal", "sort": ["PD37455","PD37456","PD37453"], "scale": {"paddingInner": 0, "paddingOuter": 0.1}, "axis": null}},
 "layer": [{"mark": {"type": "text", "fontSize": 13, "dy": -6.5, "color": "black"}, "encoding": {"text": {"field": "n"}}}, {"mark": {"type": "text", "fontSize": 13, "dy": 6.5, "color": "black"}, "encoding": {"text": {"field": "d"}}}]},
{"width": 165.69, "height": 22, "data": {"name": "samples"}, "transform": [{"filter": "datum.g == 'Never−smoker'"}],
 "encoding": {"x": {"field": "s", "type": "nominal", "sort": ["PD37454","PD34215","PD34209","PD37451"], "scale": {"paddingInner": 0, "paddingOuter": 0.1}, "axis": null}},
 "layer": [{"mark": {"type": "text", "fontSize": 13, "dy": -6.5, "color": "black"}, "encoding": {"text": {"field": "n"}}}, {"mark": {"type": "text", "fontSize": 13, "dy": 6.5, "color": "black"}, "encoding": {"text": {"field": "d"}}}]},
{"width": 244.59, "height": 22, "data": {"name": "samples"}, "transform": [{"filter": "datum.g == 'Ex−smoker'"}],
 "encoding": {"x": {"field": "s", "type": "nominal", "sort": ["PD34205","PD34210","PD30160","PD37452","PD34206","PD26988"], "scale": {"paddingInner": 0, "paddingOuter": 0.1}, "axis": null}},
 "layer": [{"mark": {"type": "text", "fontSize": 13, "dy": -6.5, "color": "black"}, "encoding": {"text": {"field": "n"}}}, {"mark": {"type": "text", "fontSize": 13, "dy": 6.5, "color": "black"}, "encoding": {"text": {"field": "d"}}}]},
{"width": 126.24, "height": 22, "data": {"name": "samples"}, "transform": [{"filter": "datum.g == 'Current smoker'"}],
 "encoding": {"x": {"field": "s", "type": "nominal", "sort": ["PD34204","PD34207","PD34211"], "scale": {"paddingInner": 0, "paddingOuter": 0.1}, "axis": null}},
 "layer": [{"mark": {"type": "text", "fontSize": 13, "dy": -6.5, "color": "black"}, "encoding": {"text": {"field": "n"}}}, {"mark": {"type": "text", "fontSize": 13, "dy": 6.5, "color": "black"}, "encoding": {"text": {"field": "d"}}}]}
],
"spacing": 6
},
{
"hconcat": [
{
"hconcat": [
{"width": 126.24, "height": 105, "view": {"fill": "#EBEBEB", "stroke": null}, "data": {"name": "a"},
 "transform": [{"filter": {"and": [{"field": "t", "equal": "SBS"}, {"field": "s", "oneOf": ["PD37455","PD37456","PD37453"]}]}}],
 "resolve": {"axis": {"y": "independent"}},
 "encoding": {"x": {"field": "s", "type": "nominal", "sort": ["PD37455","PD37456","PD37453"], "scale": {"paddingInner": 0, "paddingOuter": 0.1}, "axis": null}},
 "layer": [
  {"transform": [{"filter": "isValid(datum.v)"}, {"window": [{"op": "row_number", "as": "i"}], "groupby": ["s"]}], "mark": {"type": "circle", "size": 24, "color": "#A0A0A0", "opacity": 0.8}, "encoding": {"y": {"field": "v", "type": "quantitative", "scale": {"domain": [-950, 19950], "nice": false, "zero": false}, "axis": {"values": [2500,7500,12500,17500], "orient": "left", "labels": false, "ticks": false, "domain": false, "title": null, "grid": true, "gridColor": "white", "gridOpacity": 1, "gridWidth": 0.5}}, "xOffset": {"field": "i", "type": "ordinal", "scale": {"paddingInner": 0, "paddingOuter": 1.7}}}},
  {"transform": [{"filter": "isValid(datum.hi)"}], "mark": {"type": "rule", "color": "#333333", "strokeWidth": 0.9}, "encoding": {"y": {"field": "lo", "type": "quantitative", "axis": {"values": [0,5000,10000,15000], "orient": "left", "format": "d", "title": null, "domain": false, "tickSize": 3, "tickColor": "#333333", "labelFontSize": 14, "labelColor": "#333333", "labelPadding": 2, "grid": true, "gridColor": "white", "gridOpacity": 1, "gridWidth": 1.1}}, "y2": {"field": "hi"}}},
  {"transform": [{"filter": "isValid(datum.hi)"}], "mark": {"type": "bar", "width": 29.6, "fill": "#C8A983", "stroke": "#333333", "strokeWidth": 0.9}, "encoding": {"y": {"field": "q1", "type": "quantitative", "axis": null}, "y2": {"field": "q3"}}},
  {"transform": [{"filter": "isValid(datum.hi)"}], "mark": {"type": "tick", "color": "#1A1A1A", "thickness": 2, "size": 29.6}, "encoding": {"y": {"field": "med", "type": "quantitative", "axis": null}}},
  {"transform": [{"filter": "isValid(datum.v)"}, {"window": [{"op": "row_number", "as": "i"}], "groupby": ["s"]}], "mark": {"type": "circle", "size": 24, "color": "#A0A0A0", "opacity": 0.8}, "encoding": {"y": {"field": "v", "type": "quantitative", "axis": null}, "xOffset": {"field": "i", "type": "ordinal", "scale": {"paddingInner": 0, "paddingOuter": 1.7}}}}
 ]},
{"width": 165.69, "height": 105, "view": {"fill": "#EBEBEB", "stroke": null}, "data": {"name": "a"},
 "transform": [{"filter": {"and": [{"field": "t", "equal": "SBS"}, {"field": "s", "oneOf": ["PD37454","PD34215","PD34209","PD37451"]}]}}],
 "resolve": {"axis": {"y": "independent"}},
 "encoding": {"x": {"field": "s", "type": "nominal", "sort": ["PD37454","PD34215","PD34209","PD37451"], "scale": {"paddingInner": 0, "paddingOuter": 0.1}, "axis": null}},
 "layer": [
  {"transform": [{"filter": "isValid(datum.v)"}, {"window": [{"op": "row_number", "as": "i"}], "groupby": ["s"]}], "mark": {"type": "circle", "size": 24, "color": "#A0A0A0", "opacity": 0.8}, "encoding": {"y": {"field": "v", "type": "quantitative", "scale": {"domain": [-950, 19950], "nice": false, "zero": false}, "axis": {"values": [2500,7500,12500,17500], "orient": "left", "labels": false, "ticks": false, "domain": false, "title": null, "grid": true, "gridColor": "white", "gridOpacity": 1, "gridWidth": 0.5}}, "xOffset": {"field": "i", "type": "ordinal", "scale": {"paddingInner": 0, "paddingOuter": 1.7}}}},
  {"transform": [{"filter": "isValid(datum.hi)"}], "mark": {"type": "rule", "color": "#333333", "strokeWidth": 0.9}, "encoding": {"y": {"field": "lo", "type": "quantitative", "axis": {"values": [0,5000,10000,15000], "orient": "left", "labels": false, "ticks": false, "domain": false, "title": null, "grid": true, "gridColor": "white", "gridOpacity": 1, "gridWidth": 1.1}}, "y2": {"field": "hi"}}},
  {"transform": [{"filter": "isValid(datum.hi)"}], "mark": {"type": "bar", "width": 29.6, "fill": "#5A4EA2", "stroke": "#333333", "strokeWidth": 0.9}, "encoding": {"y": {"field": "q1", "type": "quantitative", "axis": null}, "y2": {"field": "q3"}}},
  {"transform": [{"filter": "isValid(datum.hi)"}], "mark": {"type": "tick", "color": "#1A1A1A", "thickness": 2, "size": 29.6}, "encoding": {"y": {"field": "med", "type": "quantitative", "axis": null}}},
  {"transform": [{"filter": "isValid(datum.v)"}, {"window": [{"op": "row_number", "as": "i"}], "groupby": ["s"]}], "mark": {"type": "circle", "size": 24, "color": "#A0A0A0", "opacity": 0.8}, "encoding": {"y": {"field": "v", "type": "quantitative", "axis": null}, "xOffset": {"field": "i", "type": "ordinal", "scale": {"paddingInner": 0, "paddingOuter": 1.7}}}}
 ]},
{"width": 244.59, "height": 105, "view": {"fill": "#EBEBEB", "stroke": null}, "data": {"name": "a"},
 "transform": [{"filter": {"and": [{"field": "t", "equal": "SBS"}, {"field": "s", "oneOf": ["PD34205","PD34210","PD30160","PD37452","PD34206","PD26988"]}]}}],
 "resolve": {"axis": {"y": "independent"}},
 "encoding": {"x": {"field": "s", "type": "nominal", "sort": ["PD34205","PD34210","PD30160","PD37452","PD34206","PD26988"], "scale": {"paddingInner": 0, "paddingOuter": 0.1}, "axis": null}},
 "layer": [
  {"transform": [{"filter": "isValid(datum.v)"}, {"window": [{"op": "row_number", "as": "i"}], "groupby": ["s"]}], "mark": {"type": "circle", "size": 24, "color": "#A0A0A0", "opacity": 0.8}, "encoding": {"y": {"field": "v", "type": "quantitative", "scale": {"domain": [-950, 19950], "nice": false, "zero": false}, "axis": {"values": [2500,7500,12500,17500], "orient": "left", "labels": false, "ticks": false, "domain": false, "title": null, "grid": true, "gridColor": "white", "gridOpacity": 1, "gridWidth": 0.5}}, "xOffset": {"field": "i", "type": "ordinal", "scale": {"paddingInner": 0, "paddingOuter": 1.7}}}},
  {"transform": [{"filter": "isValid(datum.hi)"}], "mark": {"type": "rule", "color": "#333333", "strokeWidth": 0.9}, "encoding": {"y": {"field": "lo", "type": "quantitative", "axis": {"values": [0,5000,10000,15000], "orient": "left", "labels": false, "ticks": false, "domain": false, "title": null, "grid": true, "gridColor": "white", "gridOpacity": 1, "gridWidth": 1.1}}, "y2": {"field": "hi"}}},
  {"transform": [{"filter": "isValid(datum.hi)"}], "mark": {"type": "bar", "width": 29.6, "fill": "#76C261", "stroke": "#333333", "strokeWidth": 0.9}, "encoding": {"y": {"field": "q1", "type": "quantitative", "axis": null}, "y2": {"field": "q3"}}},
  {"transform": [{"filter": "isValid(datum.hi)"}], "mark": {"type": "tick", "color": "#1A1A1A", "thickness": 2, "size": 29.6}, "encoding": {"y": {"field": "med", "type": "quantitative", "axis": null}}},
  {"transform": [{"filter": "isValid(datum.v)"}, {"window": [{"op": "row_number", "as": "i"}], "groupby": ["s"]}], "mark": {"type": "circle", "size": 24, "color": "#A0A0A0", "opacity": 0.8}, "encoding": {"y": {"field": "v", "type": "quantitative", "axis": null}, "xOffset": {"field": "i", "type": "ordinal", "scale": {"paddingInner": 0, "paddingOuter": 1.7}}}}
 ]},
{"width": 126.24, "height": 105, "view": {"fill": "#EBEBEB", "stroke": null}, "data": {"name": "a"},
 "transform": [{"filter": {"and": [{"field": "t", "equal": "SBS"}, {"field": "s", "oneOf": ["PD34204","PD34207","PD34211"]}]}}],
 "resolve": {"axis": {"y": "independent"}},
 "encoding": {"x": {"field": "s", "type": "nominal", "sort": ["PD34204","PD34207","PD34211"], "scale": {"paddingInner": 0, "paddingOuter": 0.1}, "axis": null}},
 "layer": [
  {"transform": [{"filter": "isValid(datum.v)"}, {"window": [{"op": "row_number", "as": "i"}], "groupby": ["s"]}], "mark": {"type": "circle", "size": 24, "color": "#A0A0A0", "opacity": 0.8}, "encoding": {"y": {"field": "v", "type": "quantitative", "scale": {"domain": [-950, 19950], "nice": false, "zero": false}, "axis": {"values": [2500,7500,12500,17500], "orient": "left", "labels": false, "ticks": false, "domain": false, "title": null, "grid": true, "gridColor": "white", "gridOpacity": 1, "gridWidth": 0.5}}, "xOffset": {"field": "i", "type": "ordinal", "scale": {"paddingInner": 0, "paddingOuter": 1.7}}}},
  {"transform": [{"filter": "isValid(datum.hi)"}], "mark": {"type": "rule", "color": "#333333", "strokeWidth": 0.9}, "encoding": {"y": {"field": "lo", "type": "quantitative", "axis": {"values": [0,5000,10000,15000], "orient": "left", "labels": false, "ticks": false, "domain": false, "title": null, "grid": true, "gridColor": "white", "gridOpacity": 1, "gridWidth": 1.1}}, "y2": {"field": "hi"}}},
  {"transform": [{"filter": "isValid(datum.hi)"}], "mark": {"type": "bar", "width": 29.6, "fill": "#A25DA7", "stroke": "#333333", "strokeWidth": 0.9}, "encoding": {"y": {"field": "q1", "type": "quantitative", "axis": null}, "y2": {"field": "q3"}}},
  {"transform": [{"filter": "isValid(datum.hi)"}], "mark": {"type": "tick", "color": "#1A1A1A", "thickness": 2, "size": 29.6}, "encoding": {"y": {"field": "med", "type": "quantitative", "axis": null}}},
  {"transform": [{"filter": "isValid(datum.v)"}, {"window": [{"op": "row_number", "as": "i"}], "groupby": ["s"]}], "mark": {"type": "circle", "size": 24, "color": "#A0A0A0", "opacity": 0.8}, "encoding": {"y": {"field": "v", "type": "quantitative", "axis": null}, "xOffset": {"field": "i", "type": "ordinal", "scale": {"paddingInner": 0, "paddingOuter": 1.7}}}}
 ]}
],
"spacing": 6,
"bounds": "flush"
},
{"width": 24, "height": 105, "view": {"fill": "#D9D9D9", "stroke": null}, "data": {"values": [{"t": "SBS"}]}, "mark": {"type": "text", "angle": 90, "fontSize": 16.5, "color": "#1A1A1A"}, "encoding": {"text": {"field": "t"}}}
],
"spacing": -8
}
],
"spacing": 6
},
{
"hconcat": [
{
"hconcat": [
{"width": 126.24, "height": 103, "view": {"fill": "#EBEBEB", "stroke": null}, "data": {"name": "a"},
 "transform": [{"filter": {"and": [{"field": "t", "equal": "Indel"}, {"field": "s", "oneOf": ["PD37455","PD37456","PD37453"]}]}}],
 "resolve": {"axis": {"y": "independent"}},
 "encoding": {"x": {"field": "s", "type": "nominal", "sort": ["PD37455","PD37456","PD37453"], "scale": {"paddingInner": 0, "paddingOuter": 0.1}, "axis": null}},
 "layer": [
  {"transform": [{"filter": "isValid(datum.v)"}, {"window": [{"op": "row_number", "as": "i"}], "groupby": ["s"]}], "mark": {"type": "circle", "size": 24, "color": "#A0A0A0", "opacity": 0.8}, "encoding": {"y": {"field": "v", "type": "quantitative", "scale": {"domain": [-19.5, 409.5], "nice": false, "zero": false}, "axis": {"values": [50,150,250,350], "orient": "left", "labels": false, "ticks": false, "domain": false, "title": null, "grid": true, "gridColor": "white", "gridOpacity": 1, "gridWidth": 0.5}}, "xOffset": {"field": "i", "type": "ordinal", "scale": {"paddingInner": 0, "paddingOuter": 1.7}}}},
  {"transform": [{"filter": "isValid(datum.hi)"}], "mark": {"type": "rule", "color": "#333333", "strokeWidth": 0.9}, "encoding": {"y": {"field": "lo", "type": "quantitative", "axis": {"values": [0,100,200,300,400], "orient": "left", "format": "d", "title": "Mutations / cell", "titleFontSize": 17, "titleColor": "black", "titleX": -39, "domain": false, "tickSize": 3, "tickColor": "#333333", "labelFontSize": 14, "labelColor": "#333333", "labelPadding": 2, "grid": true, "gridColor": "white", "gridOpacity": 1, "gridWidth": 1.1}}, "y2": {"field": "hi"}}},
  {"transform": [{"filter": "isValid(datum.hi)"}], "mark": {"type": "bar", "width": 29.6, "fill": "#C8A983", "stroke": "#333333", "strokeWidth": 0.9}, "encoding": {"y": {"field": "q1", "type": "quantitative", "axis": null}, "y2": {"field": "q3"}}},
  {"transform": [{"filter": "isValid(datum.hi)"}], "mark": {"type": "tick", "color": "#1A1A1A", "thickness": 2, "size": 29.6}, "encoding": {"y": {"field": "med", "type": "quantitative", "axis": null}}},
  {"transform": [{"filter": "isValid(datum.v)"}, {"window": [{"op": "row_number", "as": "i"}], "groupby": ["s"]}], "mark": {"type": "circle", "size": 24, "color": "#A0A0A0", "opacity": 0.8}, "encoding": {"y": {"field": "v", "type": "quantitative", "axis": null}, "xOffset": {"field": "i", "type": "ordinal", "scale": {"paddingInner": 0, "paddingOuter": 1.7}}}}
 ]},
{"width": 165.69, "height": 103, "view": {"fill": "#EBEBEB", "stroke": null}, "data": {"name": "a"},
 "transform": [{"filter": {"and": [{"field": "t", "equal": "Indel"}, {"field": "s", "oneOf": ["PD37454","PD34215","PD34209","PD37451"]}]}}],
 "resolve": {"axis": {"y": "independent"}},
 "encoding": {"x": {"field": "s", "type": "nominal", "sort": ["PD37454","PD34215","PD34209","PD37451"], "scale": {"paddingInner": 0, "paddingOuter": 0.1}, "axis": null}},
 "layer": [
  {"transform": [{"filter": "isValid(datum.v)"}, {"window": [{"op": "row_number", "as": "i"}], "groupby": ["s"]}], "mark": {"type": "circle", "size": 24, "color": "#A0A0A0", "opacity": 0.8}, "encoding": {"y": {"field": "v", "type": "quantitative", "scale": {"domain": [-19.5, 409.5], "nice": false, "zero": false}, "axis": {"values": [50,150,250,350], "orient": "left", "labels": false, "ticks": false, "domain": false, "title": null, "grid": true, "gridColor": "white", "gridOpacity": 1, "gridWidth": 0.5}}, "xOffset": {"field": "i", "type": "ordinal", "scale": {"paddingInner": 0, "paddingOuter": 1.7}}}},
  {"transform": [{"filter": "isValid(datum.hi)"}], "mark": {"type": "rule", "color": "#333333", "strokeWidth": 0.9}, "encoding": {"y": {"field": "lo", "type": "quantitative", "axis": {"values": [0,100,200,300,400], "orient": "left", "labels": false, "ticks": false, "domain": false, "title": null, "grid": true, "gridColor": "white", "gridOpacity": 1, "gridWidth": 1.1}}, "y2": {"field": "hi"}}},
  {"transform": [{"filter": "isValid(datum.hi)"}], "mark": {"type": "bar", "width": 29.6, "fill": "#5A4EA2", "stroke": "#333333", "strokeWidth": 0.9}, "encoding": {"y": {"field": "q1", "type": "quantitative", "axis": null}, "y2": {"field": "q3"}}},
  {"transform": [{"filter": "isValid(datum.hi)"}], "mark": {"type": "tick", "color": "#1A1A1A", "thickness": 2, "size": 29.6}, "encoding": {"y": {"field": "med", "type": "quantitative", "axis": null}}},
  {"transform": [{"filter": "isValid(datum.v)"}, {"window": [{"op": "row_number", "as": "i"}], "groupby": ["s"]}], "mark": {"type": "circle", "size": 24, "color": "#A0A0A0", "opacity": 0.8}, "encoding": {"y": {"field": "v", "type": "quantitative", "axis": null}, "xOffset": {"field": "i", "type": "ordinal", "scale": {"paddingInner": 0, "paddingOuter": 1.7}}}}
 ]},
{"width": 244.59, "height": 103, "view": {"fill": "#EBEBEB", "stroke": null}, "data": {"name": "a"},
 "transform": [{"filter": {"and": [{"field": "t", "equal": "Indel"}, {"field": "s", "oneOf": ["PD34205","PD34210","PD30160","PD37452","PD34206","PD26988"]}]}}],
 "resolve": {"axis": {"y": "independent"}},
 "encoding": {"x": {"field": "s", "type": "nominal", "sort": ["PD34205","PD34210","PD30160","PD37452","PD34206","PD26988"], "scale": {"paddingInner": 0, "paddingOuter": 0.1}, "axis": null}},
 "layer": [
  {"transform": [{"filter": "isValid(datum.v)"}, {"window": [{"op": "row_number", "as": "i"}], "groupby": ["s"]}], "mark": {"type": "circle", "size": 24, "color": "#A0A0A0", "opacity": 0.8}, "encoding": {"y": {"field": "v", "type": "quantitative", "scale": {"domain": [-19.5, 409.5], "nice": false, "zero": false}, "axis": {"values": [50,150,250,350], "orient": "left", "labels": false, "ticks": false, "domain": false, "title": null, "grid": true, "gridColor": "white", "gridOpacity": 1, "gridWidth": 0.5}}, "xOffset": {"field": "i", "type": "ordinal", "scale": {"paddingInner": 0, "paddingOuter": 1.7}}}},
  {"transform": [{"filter": "isValid(datum.hi)"}], "mark": {"type": "rule", "color": "#333333", "strokeWidth": 0.9}, "encoding": {"y": {"field": "lo", "type": "quantitative", "axis": {"values": [0,100,200,300,400], "orient": "left", "labels": false, "ticks": false, "domain": false, "title": null, "grid": true, "gridColor": "white", "gridOpacity": 1, "gridWidth": 1.1}}, "y2": {"field": "hi"}}},
  {"transform": [{"filter": "isValid(datum.hi)"}], "mark": {"type": "bar", "width": 29.6, "fill": "#76C261", "stroke": "#333333", "strokeWidth": 0.9}, "encoding": {"y": {"field": "q1", "type": "quantitative", "axis": null}, "y2": {"field": "q3"}}},
  {"transform": [{"filter": "isValid(datum.hi)"}], "mark": {"type": "tick", "color": "#1A1A1A", "thickness": 2, "size": 29.6}, "encoding": {"y": {"field": "med", "type": "quantitative", "axis": null}}},
  {"transform": [{"filter": "isValid(datum.v)"}, {"window": [{"op": "row_number", "as": "i"}], "groupby": ["s"]}], "mark": {"type": "circle", "size": 24, "color": "#A0A0A0", "opacity": 0.8}, "encoding": {"y": {"field": "v", "type": "quantitative", "axis": null}, "xOffset": {"field": "i", "type": "ordinal", "scale": {"paddingInner": 0, "paddingOuter": 1.7}}}}
 ]},
{"width": 126.24, "height": 103, "view": {"fill": "#EBEBEB", "stroke": null}, "data": {"name": "a"},
 "transform": [{"filter": {"and": [{"field": "t", "equal": "Indel"}, {"field": "s", "oneOf": ["PD34204","PD34207","PD34211"]}]}}],
 "resolve": {"axis": {"y": "independent"}},
 "encoding": {"x": {"field": "s", "type": "nominal", "sort": ["PD34204","PD34207","PD34211"], "scale": {"paddingInner": 0, "paddingOuter": 0.1}, "axis": null}},
 "layer": [
  {"transform": [{"filter": "isValid(datum.v)"}, {"window": [{"op": "row_number", "as": "i"}], "groupby": ["s"]}], "mark": {"type": "circle", "size": 24, "color": "#A0A0A0", "opacity": 0.8}, "encoding": {"y": {"field": "v", "type": "quantitative", "scale": {"domain": [-19.5, 409.5], "nice": false, "zero": false}, "axis": {"values": [50,150,250,350], "orient": "left", "labels": false, "ticks": false, "domain": false, "title": null, "grid": true, "gridColor": "white", "gridOpacity": 1, "gridWidth": 0.5}}, "xOffset": {"field": "i", "type": "ordinal", "scale": {"paddingInner": 0, "paddingOuter": 1.7}}}},
  {"transform": [{"filter": "isValid(datum.hi)"}], "mark": {"type": "rule", "color": "#333333", "strokeWidth": 0.9}, "encoding": {"y": {"field": "lo", "type": "quantitative", "axis": {"values": [0,100,200,300,400], "orient": "left", "labels": false, "ticks": false, "domain": false, "title": null, "grid": true, "gridColor": "white", "gridOpacity": 1, "gridWidth": 1.1}}, "y2": {"field": "hi"}}},
  {"transform": [{"filter": "isValid(datum.hi)"}], "mark": {"type": "bar", "width": 29.6, "fill": "#A25DA7", "stroke": "#333333", "strokeWidth": 0.9}, "encoding": {"y": {"field": "q1", "type": "quantitative", "axis": null}, "y2": {"field": "q3"}}},
  {"transform": [{"filter": "isValid(datum.hi)"}], "mark": {"type": "tick", "color": "#1A1A1A", "thickness": 2, "size": 29.6}, "encoding": {"y": {"field": "med", "type": "quantitative", "axis": null}}},
  {"transform": [{"filter": "isValid(datum.v)"}, {"window": [{"op": "row_number", "as": "i"}], "groupby": ["s"]}], "mark": {"type": "circle", "size": 24, "color": "#A0A0A0", "opacity": 0.8}, "encoding": {"y": {"field": "v", "type": "quantitative", "axis": null}, "xOffset": {"field": "i", "type": "ordinal", "scale": {"paddingInner": 0, "paddingOuter": 1.7}}}}
 ]}
],
"spacing": 6,
"bounds": "flush"
},
{"width": 24, "height": 103, "view": {"fill": "#D9D9D9", "stroke": null}, "data": {"values": [{"t": "Indel"}]}, "mark": {"type": "text", "angle": 90, "fontSize": 16.5, "color": "#1A1A1A"}, "encoding": {"text": {"field": "t"}}}
],
"spacing": -8
},
{
"hconcat": [
{
"hconcat": [
{"width": 126.24, "height": 105, "view": {"fill": "#EBEBEB", "stroke": null}, "data": {"name": "a"},
 "transform": [{"filter": {"and": [{"field": "t", "equal": "DBS"}, {"field": "s", "oneOf": ["PD37455","PD37456","PD37453"]}]}}],
 "resolve": {"axis": {"y": "independent"}},
 "encoding": {"x": {"field": "s", "type": "nominal", "sort": ["PD37455","PD37456","PD37453"], "scale": {"paddingInner": 0, "paddingOuter": 0.1}, "axis": {"title": null, "labelAngle": 0, "labelExpr": "indexof(['PD37456','PD34215','PD37451','PD34210','PD37452','PD26988','PD34207'], datum.value) >= 0 ? ['', datum.value] : datum.value", "labelFontSize": 13, "labelColor": "#1A1A1A", "labelLineHeight": 12.5, "labelPadding": 1, "tickSize": 3, "tickColor": "#333333", "domain": false, "grid": false}}},
 "layer": [
  {"transform": [{"filter": "isValid(datum.v)"}, {"window": [{"op": "row_number", "as": "i"}], "groupby": ["s"]}], "mark": {"type": "circle", "size": 24, "color": "#A0A0A0", "opacity": 0.8}, "encoding": {"y": {"field": "v", "type": "quantitative", "scale": {"domain": [-17, 354], "nice": false, "zero": false}, "axis": {"values": [50,150,250,350], "orient": "left", "labels": false, "ticks": false, "domain": false, "title": null, "grid": true, "gridColor": "white", "gridOpacity": 1, "gridWidth": 0.5}}, "xOffset": {"field": "i", "type": "ordinal", "scale": {"paddingInner": 0, "paddingOuter": 1.7}}}},
  {"transform": [{"filter": "isValid(datum.hi)"}], "mark": {"type": "rule", "color": "#333333", "strokeWidth": 0.9}, "encoding": {"y": {"field": "lo", "type": "quantitative", "axis": {"values": [0,100,200,300], "orient": "left", "format": "d", "title": null, "domain": false, "tickSize": 3, "tickColor": "#333333", "labelFontSize": 14, "labelColor": "#333333", "labelPadding": 2, "grid": true, "gridColor": "white", "gridOpacity": 1, "gridWidth": 1.1}}, "y2": {"field": "hi"}}},
  {"transform": [{"filter": "isValid(datum.hi)"}], "mark": {"type": "bar", "width": 29.6, "fill": "#C8A983", "stroke": "#333333", "strokeWidth": 0.9}, "encoding": {"y": {"field": "q1", "type": "quantitative", "axis": null}, "y2": {"field": "q3"}}},
  {"transform": [{"filter": "isValid(datum.hi)"}], "mark": {"type": "tick", "color": "#1A1A1A", "thickness": 2, "size": 29.6}, "encoding": {"y": {"field": "med", "type": "quantitative", "axis": null}}},
  {"transform": [{"filter": "isValid(datum.v)"}, {"window": [{"op": "row_number", "as": "i"}], "groupby": ["s"]}], "mark": {"type": "circle", "size": 24, "color": "#A0A0A0", "opacity": 0.8}, "encoding": {"y": {"field": "v", "type": "quantitative", "axis": null}, "xOffset": {"field": "i", "type": "ordinal", "scale": {"paddingInner": 0, "paddingOuter": 1.7}}}}
 ]},
{"width": 165.69, "height": 105, "view": {"fill": "#EBEBEB", "stroke": null}, "data": {"name": "a"},
 "transform": [{"filter": {"and": [{"field": "t", "equal": "DBS"}, {"field": "s", "oneOf": ["PD37454","PD34215","PD34209","PD37451"]}]}}],
 "resolve": {"axis": {"y": "independent"}},
 "encoding": {"x": {"field": "s", "type": "nominal", "sort": ["PD37454","PD34215","PD34209","PD37451"], "scale": {"paddingInner": 0, "paddingOuter": 0.1}, "axis": {"title": null, "labelAngle": 0, "labelExpr": "indexof(['PD37456','PD34215','PD37451','PD34210','PD37452','PD26988','PD34207'], datum.value) >= 0 ? ['', datum.value] : datum.value", "labelFontSize": 13, "labelColor": "#1A1A1A", "labelLineHeight": 12.5, "labelPadding": 1, "tickSize": 3, "tickColor": "#333333", "domain": false, "grid": false}}},
 "layer": [
  {"transform": [{"filter": "isValid(datum.v)"}, {"window": [{"op": "row_number", "as": "i"}], "groupby": ["s"]}], "mark": {"type": "circle", "size": 24, "color": "#A0A0A0", "opacity": 0.8}, "encoding": {"y": {"field": "v", "type": "quantitative", "scale": {"domain": [-17, 354], "nice": false, "zero": false}, "axis": {"values": [50,150,250,350], "orient": "left", "labels": false, "ticks": false, "domain": false, "title": null, "grid": true, "gridColor": "white", "gridOpacity": 1, "gridWidth": 0.5}}, "xOffset": {"field": "i", "type": "ordinal", "scale": {"paddingInner": 0, "paddingOuter": 1.7}}}},
  {"transform": [{"filter": "isValid(datum.hi)"}], "mark": {"type": "rule", "color": "#333333", "strokeWidth": 0.9}, "encoding": {"y": {"field": "lo", "type": "quantitative", "axis": {"values": [0,100,200,300], "orient": "left", "labels": false, "ticks": false, "domain": false, "title": null, "grid": true, "gridColor": "white", "gridOpacity": 1, "gridWidth": 1.1}}, "y2": {"field": "hi"}}},
  {"transform": [{"filter": "isValid(datum.hi)"}], "mark": {"type": "bar", "width": 29.6, "fill": "#5A4EA2", "stroke": "#333333", "strokeWidth": 0.9}, "encoding": {"y": {"field": "q1", "type": "quantitative", "axis": null}, "y2": {"field": "q3"}}},
  {"transform": [{"filter": "isValid(datum.hi)"}], "mark": {"type": "tick", "color": "#1A1A1A", "thickness": 2, "size": 29.6}, "encoding": {"y": {"field": "med", "type": "quantitative", "axis": null}}},
  {"transform": [{"filter": "isValid(datum.v)"}, {"window": [{"op": "row_number", "as": "i"}], "groupby": ["s"]}], "mark": {"type": "circle", "size": 24, "color": "#A0A0A0", "opacity": 0.8}, "encoding": {"y": {"field": "v", "type": "quantitative", "axis": null}, "xOffset": {"field": "i", "type": "ordinal", "scale": {"paddingInner": 0, "paddingOuter": 1.7}}}}
 ]},
{"width": 244.59, "height": 105, "view": {"fill": "#EBEBEB", "stroke": null}, "data": {"name": "a"},
 "transform": [{"filter": {"and": [{"field": "t", "equal": "DBS"}, {"field": "s", "oneOf": ["PD34205","PD34210","PD30160","PD37452","PD34206","PD26988"]}]}}],
 "resolve": {"axis": {"y": "independent"}},
 "encoding": {"x": {"field": "s", "type": "nominal", "sort": ["PD34205","PD34210","PD30160","PD37452","PD34206","PD26988"], "scale": {"paddingInner": 0, "paddingOuter": 0.1}, "axis": {"title": null, "labelAngle": 0, "labelExpr": "indexof(['PD37456','PD34215','PD37451','PD34210','PD37452','PD26988','PD34207'], datum.value) >= 0 ? ['', datum.value] : datum.value", "labelFontSize": 13, "labelColor": "#1A1A1A", "labelLineHeight": 12.5, "labelPadding": 1, "tickSize": 3, "tickColor": "#333333", "domain": false, "grid": false}}},
 "layer": [
  {"transform": [{"filter": "isValid(datum.v)"}, {"window": [{"op": "row_number", "as": "i"}], "groupby": ["s"]}], "mark": {"type": "circle", "size": 24, "color": "#A0A0A0", "opacity": 0.8}, "encoding": {"y": {"field": "v", "type": "quantitative", "scale": {"domain": [-17, 354], "nice": false, "zero": false}, "axis": {"values": [50,150,250,350], "orient": "left", "labels": false, "ticks": false, "domain": false, "title": null, "grid": true, "gridColor": "white", "gridOpacity": 1, "gridWidth": 0.5}}, "xOffset": {"field": "i", "type": "ordinal", "scale": {"paddingInner": 0, "paddingOuter": 1.7}}}},
  {"transform": [{"filter": "isValid(datum.hi)"}], "mark": {"type": "rule", "color": "#333333", "strokeWidth": 0.9}, "encoding": {"y": {"field": "lo", "type": "quantitative", "axis": {"values": [0,100,200,300], "orient": "left", "labels": false, "ticks": false, "domain": false, "title": null, "grid": true, "gridColor": "white", "gridOpacity": 1, "gridWidth": 1.1}}, "y2": {"field": "hi"}}},
  {"transform": [{"filter": "isValid(datum.hi)"}], "mark": {"type": "bar", "width": 29.6, "fill": "#76C261", "stroke": "#333333", "strokeWidth": 0.9}, "encoding": {"y": {"field": "q1", "type": "quantitative", "axis": null}, "y2": {"field": "q3"}}},
  {"transform": [{"filter": "isValid(datum.hi)"}], "mark": {"type": "tick", "color": "#1A1A1A", "thickness": 2, "size": 29.6}, "encoding": {"y": {"field": "med", "type": "quantitative", "axis": null}}},
  {"transform": [{"filter": "isValid(datum.v)"}, {"window": [{"op": "row_number", "as": "i"}], "groupby": ["s"]}], "mark": {"type": "circle", "size": 24, "color": "#A0A0A0", "opacity": 0.8}, "encoding": {"y": {"field": "v", "type": "quantitative", "axis": null}, "xOffset": {"field": "i", "type": "ordinal", "scale": {"paddingInner": 0, "paddingOuter": 1.7}}}}
 ]},
{"width": 126.24, "height": 105, "view": {"fill": "#EBEBEB", "stroke": null}, "data": {"name": "a"},
 "transform": [{"filter": {"and": [{"field": "t", "equal": "DBS"}, {"field": "s", "oneOf": ["PD34204","PD34207","PD34211"]}]}}],
 "resolve": {"axis": {"y": "independent"}},
 "encoding": {"x": {"field": "s", "type": "nominal", "sort": ["PD34204","PD34207","PD34211"], "scale": {"paddingInner": 0, "paddingOuter": 0.1}, "axis": {"title": null, "labelAngle": 0, "labelExpr": "indexof(['PD37456','PD34215','PD37451','PD34210','PD37452','PD26988','PD34207'], datum.value) >= 0 ? ['', datum.value] : datum.value", "labelFontSize": 13, "labelColor": "#1A1A1A", "labelLineHeight": 12.5, "labelPadding": 1, "tickSize": 3, "tickColor": "#333333", "domain": false, "grid": false}}},
 "layer": [
  {"transform": [{"filter": "isValid(datum.v)"}, {"window": [{"op": "row_number", "as": "i"}], "groupby": ["s"]}], "mark": {"type": "circle", "size": 24, "color": "#A0A0A0", "opacity": 0.8}, "encoding": {"y": {"field": "v", "type": "quantitative", "scale": {"domain": [-17, 354], "nice": false, "zero": false}, "axis": {"values": [50,150,250,350], "orient": "left", "labels": false, "ticks": false, "domain": false, "title": null, "grid": true, "gridColor": "white", "gridOpacity": 1, "gridWidth": 0.5}}, "xOffset": {"field": "i", "type": "ordinal", "scale": {"paddingInner": 0, "paddingOuter": 1.7}}}},
  {"transform": [{"filter": "isValid(datum.hi)"}], "mark": {"type": "rule", "color": "#333333", "strokeWidth": 0.9}, "encoding": {"y": {"field": "lo", "type": "quantitative", "axis": {"values": [0,100,200,300], "orient": "left", "labels": false, "ticks": false, "domain": false, "title": null, "grid": true, "gridColor": "white", "gridOpacity": 1, "gridWidth": 1.1}}, "y2": {"field": "hi"}}},
  {"transform": [{"filter": "isValid(datum.hi)"}], "mark": {"type": "bar", "width": 29.6, "fill": "#A25DA7", "stroke": "#333333", "strokeWidth": 0.9}, "encoding": {"y": {"field": "q1", "type": "quantitative", "axis": null}, "y2": {"field": "q3"}}},
  {"transform": [{"filter": "isValid(datum.hi)"}], "mark": {"type": "tick", "color": "#1A1A1A", "thickness": 2, "size": 29.6}, "encoding": {"y": {"field": "med", "type": "quantitative", "axis": null}}},
  {"transform": [{"filter": "isValid(datum.v)"}, {"window": [{"op": "row_number", "as": "i"}], "groupby": ["s"]}], "mark": {"type": "circle", "size": 24, "color": "#A0A0A0", "opacity": 0.8}, "encoding": {"y": {"field": "v", "type": "quantitative", "axis": null}, "xOffset": {"field": "i", "type": "ordinal", "scale": {"paddingInner": 0, "paddingOuter": 1.7}}}}
 ]}
],
"spacing": 6,
"bounds": "flush"
},
{"width": 24, "height": 105, "view": {"fill": "#D9D9D9", "stroke": null}, "data": {"values": [{"t": "DBS"}]}, "mark": {"type": "text", "angle": 90, "fontSize": 16.5, "color": "#1A1A1A"}, "encoding": {"text": {"field": "t"}}}
],
"spacing": -8
}
],
"spacing": -1
},
{
"vconcat": [
{
"width": 696.4, "height": 245.1,
"view": {"stroke": null},
"title": {"text": "b", "orient": "left", "angle": 0, "anchor": "end", "align": "right", "baseline": "top", "offset": -13, "dy": -8, "fontSize": 20, "fontWeight": "bold", "color": "black"},
"layer": [
{"data": {"name": "a"},
 "transform": [{"filter": "datum.t == 'SBS' && isValid(datum.v)"}, {"lookup": "s", "from": {"data": {"name": "samples"}, "key": "s", "fields": ["g", "age"]}}],
 "mark": {"type": "circle", "size": 85, "opacity": 1},
 "encoding": {
  "x": {"field": "age", "type": "quantitative", "scale": {"domain": [-3.15, 85], "nice": false, "zero": false},
    "axis": {"values": [0,20,40,60,80], "title": "Age (years)", "titleFontSize": 17, "titleColor": "black", "titlePadding": 4, "labelFontSize": 14.3, "labelColor": "black", "tickSize": 6, "tickColor": "black", "domain": false, "grid": false, "labelPadding": 2}},
  "y": {"field": "v", "type": "quantitative", "scale": {"domain": [-890, 19500], "nice": false, "zero": false},
    "axis": {"values": [0,5000,10000,15000], "format": "d", "offset": -16.5, "title": "Substitutions / cell", "titleFontSize": 17, "titleColor": "black", "titlePadding": 12.4, "labelFontSize": 14.3, "labelColor": "black", "tickSize": 6, "tickColor": "black", "domain": false, "grid": false, "labelPadding": 2}},
  "color": {"field": "g", "type": "nominal", "scale": {"domain": ["Child","Never−smoker","Ex−smoker","Current smoker"], "range": ["#C8A983","#5A4EA2","#76C261","#A25DA7"]},
    "legend": {"title": null, "orient": "none", "legendX": 185, "legendY": 62, "labelFontSize": 17, "labelColor": "black", "symbolType": "circle", "symbolSize": 110, "symbolStrokeWidth": 0, "symbolOpacity": 1, "labelOffset": 8, "rowPadding": 2.5}}
 }},
{"data": {"name": "fit"}, "mark": {"type": "area", "color": "#56B4E9", "opacity": 0.9},
 "encoding": {"x": {"field": "age", "type": "quantitative"}, "y": {"field": "lo", "type": "quantitative"}, "y2": {"field": "hi"}}},
{"data": {"name": "fit"}, "mark": {"type": "line", "color": "black", "strokeWidth": 2.5},
 "encoding": {"x": {"field": "age", "type": "quantitative"}, "y": {"field": "fit", "type": "quantitative"}}},
{"data": {"values": [{}]}, "mark": {"type": "rule", "color": "black", "strokeWidth": 1},
 "encoding": {"x": {"datum": -1.06, "type": "quantitative"}, "y": {"datum": 0, "type": "quantitative"}, "y2": {"datum": 15000}}},
{"data": {"values": [{}]}, "mark": {"type": "rule", "color": "black", "strokeWidth": 1},
 "encoding": {"y": {"datum": -890, "type": "quantitative"}, "x": {"datum": 0, "type": "quantitative"}, "x2": {"datum": 80}}}
]
},
{
"vconcat": [
{
"hconcat": [
{"width": 24.3, "height": 22, "data": {"values": [{}]}, "mark": {"type": "text"}, "encoding": {"text": {"value": ""}}},
{"width": 411.1, "height": 22, "view": {"fill": "#76C261", "stroke": null}, "data": {"values": [{"g": "Ex−smoker"}]}, "mark": {"type": "text", "color": "white", "fontSize": 17}, "encoding": {"text": {"field": "g"}}},
{"width": 212.2, "height": 22, "view": {"fill": "#A25DA7", "stroke": null}, "data": {"values": [{"g": "Current smoker"}]}, "mark": {"type": "text", "color": "white", "fontSize": 17}, "encoding": {"text": {"field": "g"}}}
],
"spacing": 5,
"title": {"text": "c", "orient": "left", "angle": 0, "anchor": "middle", "align": "right", "baseline": "middle", "offset": 50, "dy": -8, "fontSize": 20, "fontWeight": "bold", "color": "black"}
},
{
"hconcat": [
{"width": 440.4, "height": 195.7,
 "data": {"name": "frac"},
 "transform": [{"filter": "datum.g == 'Ex−smoker'"}],
 "mark": {"type": "bar", "color": "#34668C", "stroke": "#DCE6EE", "strokeWidth": 0.6, "width": 59.7},
 "encoding": {
  "x": {"field": "lab", "type": "nominal", "sort": null, "scale": {"paddingInner": 0.1, "paddingOuter": 0.371, "align": 0.8},
    "axis": {"labelExpr": "split(datum.value, ' ')", "labelAngle": 0, "title": null, "tickSize": 3, "tickColor": "#555555", "domain": false, "labelFontSize": 14.5, "labelLineHeight": 16.7, "labelColor": "#1A1A1A", "labelPadding": 2}},
  "y": {"field": "f", "type": "quantitative", "scale": {"domain": [-0.027, 0.575], "nice": false, "zero": false},
    "axis": {"values": [0, 0.2, 0.4], "format": ".1f", "offset": -29.3, "title": ["Fraction of cells with", "near-normal mutation burden"], "titleFontSize": 17, "titleColor": "black", "titleLineHeight": 19.7, "titlePadding": 14, "titleY": 112, "tickSize": 3, "tickColor": "#555555", "domain": false, "grid": false, "labelFontSize": 14.5, "labelColor": "#1A1A1A", "labelPadding": 1}},
  "y2": {"datum": 0}
 }},
{"width": 212.2, "height": 195.7,
 "data": {"name": "frac"},
 "transform": [{"filter": "datum.g == 'Current smoker'"}],
 "mark": {"type": "bar", "color": "#34668C", "stroke": "#DCE6EE", "strokeWidth": 0.6, "width": 59.7},
 "encoding": {
  "x": {"field": "lab", "type": "nominal", "sort": null, "scale": {"paddingInner": 0.1, "paddingOuter": 0.15},
    "axis": {"labelExpr": "split(datum.value, ' ')", "labelAngle": 0, "title": null, "tickSize": 3, "tickColor": "#555555", "domain": false, "labelFontSize": 14.5, "labelLineHeight": 16.7, "labelColor": "#1A1A1A", "labelPadding": 2}},
  "y": {"field": "f", "type": "quantitative", "scale": {"domain": [-0.027, 0.575], "nice": false, "zero": false}, "axis": null},
  "y2": {"datum": 0}
 }}
],
"spacing": 5
}
],
"spacing": 0
}
],
"spacing": 10.3
}
],
"spacing": 1
}
